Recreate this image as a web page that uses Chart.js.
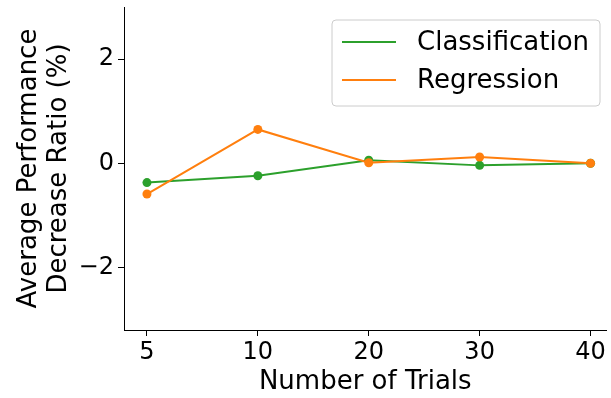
<!DOCTYPE html>
<html>
<head>
<meta charset="utf-8">
<script src="https://cdn.jsdelivr.net/npm/chart.js@4"></script>
<style>
  html, body { margin: 0; padding: 0; background: #fff; }
  #wrap { width: 611px; height: 398px; }
</style>
</head>
<body>
<div id="wrap"><canvas id="chart" width="611" height="398"></canvas></div>
<script>
const trials = ['5', '10', '20', '30', '40'];
const classification = [-0.37, -0.24, 0.06, -0.04, 0.0];
const regression = [-0.59, 0.65, 0.01, 0.12, 0.0];
const yTicks = [-2, 0, 2];

const FONT = 'DejaVu Sans';

// legend drawn in matplotlib style (framed box, line samples)
const boxLegend = {
    id: 'boxLegend',
    afterDatasetsDraw(chart) {
        const ctx = chart.ctx;
        const x = 332, y = 20, w = 268, h = 86;
        ctx.save();
        ctx.beginPath();
        ctx.roundRect(x, y, w, h, 4);
        ctx.fillStyle = 'rgba(255,255,255,0.8)';
        ctx.fill();
        ctx.strokeStyle = '#cccccc';
        ctx.lineWidth = 1;
        ctx.stroke();
        ctx.font = '26px ' + FONT;
        ctx.textBaseline = 'middle';
        chart.data.datasets.forEach((ds, i) => {
            const ly = 42 + i * 38;
            ctx.beginPath();
            ctx.moveTo(342, ly);
            ctx.lineTo(396, ly);
            ctx.strokeStyle = ds.borderColor;
            ctx.lineWidth = 2;
            ctx.stroke();
            ctx.fillStyle = '#000';
            ctx.fillText(ds.label, 417, ly + 1);
        });
        ctx.restore();
    }
};

new Chart(document.getElementById('chart'), {
    type: 'line',
    data: {
        datasets: [
            {
                label: 'Classification',
                data: classification.map((v, i) => ({ x: i, y: v })),
                borderColor: '#2ca02c',
                backgroundColor: '#2ca02c',
                borderWidth: 2,
                pointRadius: 4.5,
                pointBorderWidth: 0,
                order: 1
            },
            {
                label: 'Regression',
                data: regression.map((v, i) => ({ x: i, y: v })),
                borderColor: '#ff7f0e',
                backgroundColor: '#ff7f0e',
                borderWidth: 2,
                pointRadius: 4.5,
                pointBorderWidth: 0,
                order: 0
            }
        ]
    },
    options: {
        responsive: false,
        animation: false,
        layout: { padding: { top: 7, right: 0, left: 0, bottom: 0 } },
        plugins: {
            legend: { display: false },
            tooltip: { enabled: false }
        },
        scales: {
            x: {
                type: 'linear',
                min: -0.207,
                max: 4.144,
                afterBuildTicks: (scale) => {
                    scale.ticks = trials.map((t, i) => ({ value: i }));
                },
                afterFit: (scale) => {
                    scale.height = 68;
                    scale.paddingLeft = 0;
                    scale.paddingRight = 0;
                },
                ticks: {
                    callback: (v) => trials[v],
                    color: '#000',
                    font: { family: FONT, size: 24 },
                    padding: 2,
                    maxRotation: 0
                },
                grid: {
                    drawOnChartArea: false,
                    drawTicks: true,
                    tickLength: 6,
                    color: '#000'
                },
                border: { display: true, color: '#000', width: 1 },
                title: {
                    display: true,
                    text: 'Number of Trials',
                    color: '#000',
                    font: { family: FONT, size: 26 },
                    padding: { top: 0, bottom: 0 }
                }
            },
            y: {
                min: -3.2,
                max: 3.0,
                afterBuildTicks: (scale) => {
                    scale.ticks = yTicks.map(v => ({ value: v }));
                },
                afterFit: (scale) => {
                    scale.width = 124;
                    scale.paddingTop = 0;
                    scale.paddingBottom = 0;
                },
                ticks: {
                    callback: (v) => v < 0 ? '\u2212' + Math.abs(v) : String(v),
                    color: '#000',
                    font: { family: FONT, size: 24 },
                    padding: 4
                },
                grid: {
                    drawOnChartArea: false,
                    drawTicks: true,
                    tickLength: 6,
                    color: '#000'
                },
                border: { display: true, color: '#000', width: 1 },
                title: {
                    display: true,
                    text: ['Average Performance', 'Decrease Ratio (%)'],
                    color: '#000',
                    font: { family: FONT, size: 26, lineHeight: 1.15 },
                    padding: { top: 14, bottom: 0 }
                }
            }
        }
    },
    plugins: [boxLegend]
});
</script>
</body>
</html>
